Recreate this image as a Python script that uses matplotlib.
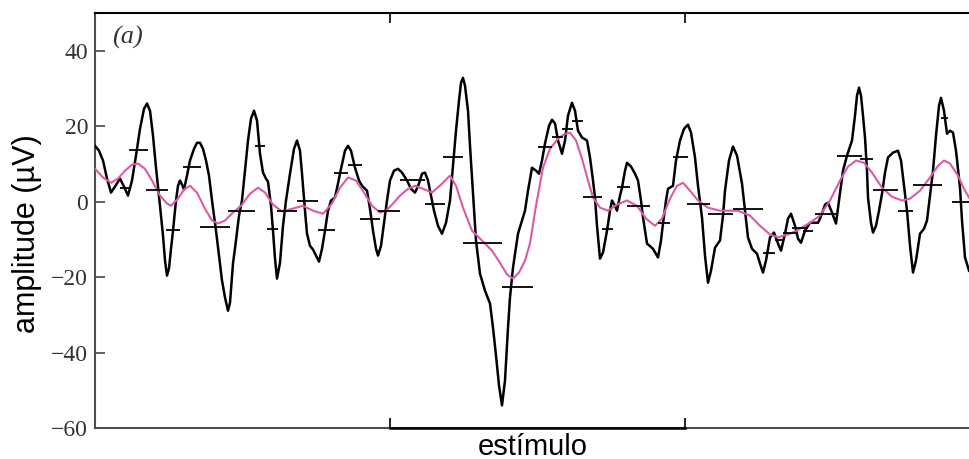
import matplotlib
matplotlib.use("Agg")
import matplotlib.pyplot as plt
import numpy as np

# ---- data (time in arbitrary units, amplitude in µV) ----
eeg_t = [0, 4, 8, 12, 16, 20, 25, 29, 33, 37, 41, 45, 49, 52, 55, 58, 61, 65, 68, 70, 72, 74, 76, 78,
         81, 83, 85, 87, 89, 92, 95, 99, 102, 105, 108, 111, 114, 117, 121, 124, 127, 130, 133, 135,
         138, 141, 144, 147, 150, 153, 156, 159, 162, 165, 168, 171, 173, 176, 178, 180, 182, 185, 188,
         191, 195, 199, 202, 205, 207, 210, 212, 215, 218, 222, 224, 227, 230, 233, 236, 240, 243, 246,
         250, 253, 256, 260, 264, 267, 272, 275, 278, 281, 283, 286, 289, 292, 295, 299, 303, 307, 312,
         316, 320, 324, 327, 330, 333, 336, 339, 343, 347, 351, 355, 358, 361, 364, 366, 368, 370, 373,
         375, 377, 379, 381, 385, 390, 395, 398, 401, 404, 407, 410, 413, 415, 418, 423, 427, 430, 433,
         437, 441, 444, 447, 450, 454, 457, 460, 463, 467, 470, 473, 477, 480, 483, 487, 492, 495, 498,
         500, 502, 505, 508, 512, 515, 517, 520, 522, 525, 527, 530, 532, 536, 540, 543, 546, 548, 552,
         558, 563, 566, 568, 571, 573, 578, 581, 585, 589, 593, 596, 600, 603, 607, 610, 613, 616, 620,
         625, 628, 630, 634, 638, 642, 647, 650, 653, 657, 662, 665, 668, 671, 675, 679, 683, 686, 690,
         693, 696, 700, 703, 706, 710, 715, 720, 723, 725, 728, 730, 733, 737, 741, 744, 748, 752, 757,
         760, 762, 764, 766, 768, 770, 772, 773, 776, 778, 781, 784, 787, 790, 793, 798, 803, 806, 809,
         812, 815, 818, 821, 825, 829, 832, 835, 838, 841, 844, 846, 849, 852, 855, 858, 861, 865, 867,
         870, 874]
eeg_v = [14.8, 13.5, 10.9, 6.1, 2.4, 4.0, 6.1, 4.0, 1.6, 5.6, 12.2, 19.3, 24.6, 26.0, 24.1, 17.5, 9.0,
         -1.1, -9.0, -15.6, -19.6, -17.7, -12.5, -7.7, 0.3, 4.2, 5.6, 4.5, 3.2, 6.9, 10.9, 14.0, 15.6,
         15.6, 14.0, 10.9, 6.9, 0.3, -7.7, -14.3, -20.9, -25.4, -28.9, -26.8, -16.4, -10.3, -3.7, 0.3,
         8.2, 16.2, 22.0, 24.1, 21.5, 12.7, 7.7, 6.1, 5.3, -1.1, -7.7, -15.1, -20.4, -16.2, -6.4, 0.3,
         7.4, 14.0, 16.2, 13.5, 7.4, -2.4, -8.5, -11.7, -12.7, -14.8, -15.9, -12.5, -7.7, -2.4, 0.3, 1.1,
         4.8, 8.7, 13.5, 14.8, 13.5, 9.0, 5.6, 4.2, 2.9, -1.9, -7.7, -12.5, -14.3, -11.7, -5.6, 0.3, 5.6,
         8.2, 8.7, 7.7, 5.6, 3.4, 2.4, 4.8, 7.4, 7.7, 5.6, 1.6, -2.4, -6.4, -8.5, -5.6, 0.3, 9.5, 18.8,
         26.8, 31.5, 32.8, 30.7, 24.1, 14.8, 6.4, -2.4, -10.3, -19.1, -23.6, -27.0, -33.4, -40.8, -48.7,
         -54.0, -47.4, -33.4, -25.4, -17.5, -8.5, -5.0, -2.4, 2.9, 9.0, 8.2, 7.4, 10.9, 15.4, 20.1, 21.7,
         20.7, 16.2, 12.7, 16.2, 22.8, 26.2, 24.1, 18.8, 17.0, 16.2, 11.7, 5.6, 1.1, -6.4, -15.1, -13.5,
         -7.7, -2.4, 0.3, -1.1, -2.4, 1.6, 3.7, 8.2, 10.3, 9.3, 7.4, 5.6, 0.3, -4.2, -11.1, -12.5, -14.8,
         -10.3, -5.8, 0.3, 3.4, 4.2, 10.9, 16.2, 19.3, 20.4, 18.3, 11.7, 4.2, -4.2, -14.3, -21.5, -18.3,
         -12.2, -10.3, -3.7, 2.9, 10.9, 14.6, 12.2, 4.8, -2.4, -9.5, -12.5, -13.8, -16.4, -18.8, -15.6,
         -9.5, -8.2, -11.1, -13.0, -8.5, -4.5, -3.2, -6.4, -9.8, -10.9, -7.7, -5.6, -5.6, -5.6, -4.5,
         -2.4, -0.8, -0.3, -2.9, -5.8, 0.3, 8.2, 12.2, 16.2, 22.8, 28.1, 30.2, 28.1, 22.8, 17.0, 8.2,
         1.1, -5.6, -8.2, -6.4, -2.4, 2.1, 7.7, 11.7, 13.0, 13.5, 10.9, 4.2, -2.4, -11.7, -18.8, -15.6,
         -8.5, -7.2, -5.0, 1.6, 8.2, 17.5, 25.4, 27.5, 24.1, 18.0, 18.8, 18.3, 13.5, 3.7, -5.0, -14.8,
         -18.3]

smooth_t = [0, 8, 16, 23, 30, 37, 43, 50, 57, 65, 72, 76, 83, 89, 95, 102, 110, 117, 123, 130, 138,
            146, 155, 163, 170, 178, 187, 197, 208, 218, 228, 237, 245, 253, 261, 269, 277, 285, 291,
            297, 305, 313, 320, 328, 337, 346, 355, 361, 368, 377, 387, 397, 405, 412, 418, 424, 430,
            435, 441, 448, 455, 463, 470, 475, 481, 487, 493, 498, 505, 513, 522, 532, 542, 551, 560,
            567, 575, 582, 588, 595, 603, 613, 625, 643, 655, 665, 675, 683, 695, 705, 715, 725, 735,
            745, 753, 761, 769, 777, 787, 797, 807, 815, 825, 835, 843, 849, 855, 863, 869, 874]
smooth_v = [8.7, 6.4, 5.0, 6.1, 8.2, 9.8, 10.1, 8.7, 5.6, 1.6, -0.5, -1.1, 0.8, 3.2, 4.2, 2.4, -1.9,
            -5.0, -5.8, -5.0, -2.9, -1.1, 2.1, 3.7, 2.4, -0.8, -2.6, -1.9, -1.1, -2.4, -3.2, -0.5, 3.7,
            6.4, 5.6, 2.4, -1.1, -2.9, -2.4, -0.8, 1.6, 3.4, 4.2, 3.4, 2.4, 4.5, 6.9, 4.2, -1.6, -7.7,
            -10.3, -13.0, -16.2, -19.3, -20.4, -18.8, -15.6, -11.1, -1.1, 9.0, 14.0, 16.7, 18.0, 18.3,
            16.2, 11.4, 5.6, 1.1, -1.6, -2.4, -0.8, 0.3, -1.1, -4.5, -6.4, -4.5, 0.8, 4.2, 5.0, 2.9, 0.3,
            -1.6, -2.4, -2.4, -3.7, -6.4, -8.7, -9.5, -8.5, -7.2, -5.6, -3.7, 0.3, 5.6, 9.3, 10.9, 10.3,
            7.7, 3.7, 1.3, 0.3, 0.8, 2.9, 6.4, 9.5, 10.9, 10.1, 6.9, 3.4, 1.1]

seg_start = [34, 25, 51, 71, 88, 105, 133, 160, 172, 182, 202, 223, 239, 253, 265, 283, 305, 330,
             348, 368, 407, 443, 457, 467, 477, 488, 507, 522, 532, 563, 578, 592, 613, 638, 668,
             680, 688, 697, 708, 720, 742, 765, 778, 803, 818, 846, 857]
seg_end = [53, 35, 73, 85, 106, 135, 160, 170, 183, 202, 223, 240, 253, 267, 285, 305, 330, 350,
           368, 407, 438, 457, 468, 478, 488, 507, 518, 535, 555, 575, 593, 615, 638, 668, 680,
           688, 702, 713, 718, 742, 767, 778, 803, 818, 847, 853, 875]
seg_v = [13.8, 3.7, 3.2, -7.4, 9.3, -6.6, -2.4, 14.8, -7.2, -2.4, 0.3, -7.4, 7.7, 9.8, -4.5, -2.6,
         5.8, -0.5, 11.9, -10.9, -22.5, 14.6, 17.2, 19.3, 21.5, 1.1, -7.2, 4.0, -1.1, -5.6, 11.7,
         -0.5, -3.2, -1.9, -13.5, -10.3, -8.2, -6.9, -7.7, -3.2, 12.2, 11.4, 3.2, -2.4, 4.5, 22.2, 0.0]

stim_on, stim_off = 295, 590
y_ticks = [-60, -40, -20, 0, 20, 40]
y_labels = ["\u221260", "\u221240", "\u221220", "0", "20", "40"]

# ---- figure ----
fig = plt.figure(figsize=(9.7, 4.59), dpi=100)
ax = fig.add_axes([95 / 970, 31 / 459, 875 / 970, 415 / 459])

ax.plot(eeg_t, eeg_v, color="black", lw=1.8, solid_joinstyle="round", zorder=3)
ax.plot(smooth_t, smooth_v, color="#dc5aa5", lw=1.5, solid_joinstyle="round", zorder=4)
ax.hlines(seg_v, seg_start, seg_end, color="black", lw=1.3, zorder=5)

ax.set_xlim(0, 875)
ax.set_ylim(-60, 50)

ax.set_yticks(y_ticks)
ax.set_yticklabels(y_labels, family="Liberation Serif", fontsize=17, color="#333333")
ax.set_xticks([stim_on, stim_off])
ax.set_xticklabels([])
ax.tick_params(axis="y", direction="in", length=7, width=1.2, color="#444444", pad=5)
ax.tick_params(axis="x", direction="in", length=7, width=1.2, color="black",
               top=True, bottom=True)

for side in ["left", "bottom"]:
    ax.spines[side].set_color("#4d4d4d")
    ax.spines[side].set_linewidth(1.5)
ax.spines["top"].set_color("black")
ax.spines["top"].set_linewidth(1.5)
ax.spines["right"].set_visible(False)

# stimulus bar on the bottom axis
ax.plot([stim_on, stim_off], [-60, -60], color="black", lw=1.8, clip_on=False, zorder=6)

ax.set_xlabel("estímulo", family="Liberation Sans", fontsize=21, labelpad=0)
fig.text(27 / 970, 1 - 234 / 459, "amplitude (µV)", rotation=90, ha="center", va="center",
         family="Liberation Sans", fontsize=22)
ax.text(0.02, 0.94, "(a)", transform=ax.transAxes, ha="left", va="center",
        family="Liberation Serif", style="italic", fontsize=19, color="#333333")

fig.savefig("out.png", dpi=100)
